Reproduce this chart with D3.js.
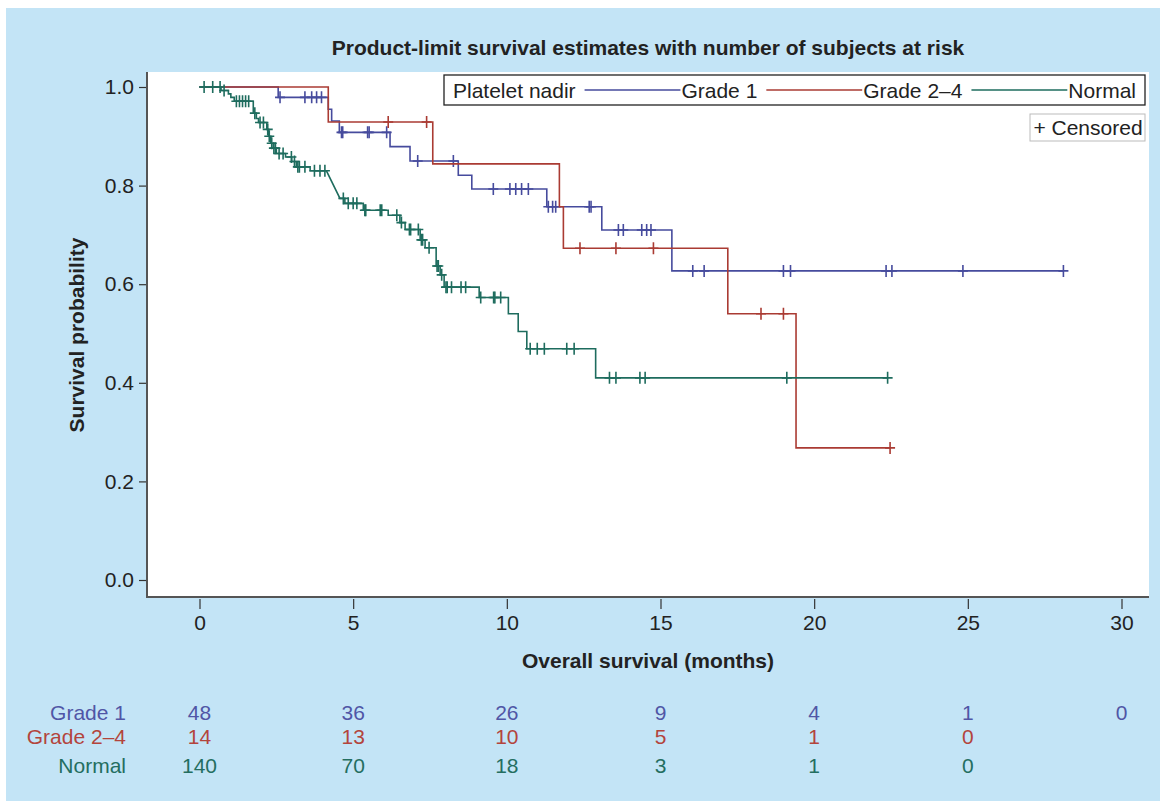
<!DOCTYPE html>
<html>
<head>
<meta charset="utf-8">
<script src="https://cdn.jsdelivr.net/npm/d3@7"></script>
<style>
  body { margin: 0; background: #fff; }
  svg { display: block; font-family: "Liberation Sans", Arial, sans-serif; }
</style>
</head>
<body>
<div id="chart"></div>
<script>
// Kaplan-Meier curves by platelet nadir, with number at risk table
const monthTicks = [0, 5, 10, 15, 20, 25, 30];
const probTicks = [0, 0.2, 0.4, 0.6, 0.8, 1.0];
const groupNames = ['Grade 1', 'Grade 2\u20134', 'Normal'];

// Grade 1
const grade1Times = [2.56, 4.19, 4.30, 4.55, 6.20, 6.85, 8.42, 8.86, 11.30, 13.09, 15.37];
const grade1Surv = [0.979, 0.955, 0.931, 0.908, 0.879, 0.850, 0.821, 0.793, 0.757, 0.710, 0.627];
const grade1Censored = [2.62, 3.43, 3.65, 3.81, 3.97, 4.62, 4.66, 5.47, 5.52, 6.09, 7.10, 8.26,
  9.56, 10.10, 10.29, 10.48, 10.70, 11.35, 11.49, 11.59, 12.68, 12.74, 13.63, 13.79, 14.39,
  14.55, 14.69, 16.05, 16.42, 19.00, 19.23, 22.34, 22.53, 24.84, 28.11];
const grade1AtRisk = [48, 36, 26, 9, 4, 1, 0];

// Grade 2-4
const grade24Times = [4.19, 7.59, 11.71, 11.84, 17.19, 19.41];
const grade24Surv = [0.929, 0.844, 0.757, 0.673, 0.540, 0.268];
const grade24Censored = [6.14, 7.39, 12.38, 13.55, 14.77, 18.27, 19.00, 22.47];
const grade24AtRisk = [14, 13, 10, 5, 1, 0];

// Normal
const normalTimes = [0.70, 0.94, 1.02, 1.13, 1.75, 1.85, 1.92, 2.19, 2.25, 2.32, 2.40, 2.50, 2.80,
  3.00, 3.15, 3.60, 4.57, 4.73, 5.33, 6.14, 6.52, 6.69, 7.18, 7.34, 7.70, 7.83, 7.96, 9.10,
  10.05, 10.37, 10.65, 12.89];
const normalSurv = [0.993, 0.986, 0.979, 0.971, 0.947, 0.936, 0.928, 0.914, 0.900, 0.886, 0.876,
  0.865, 0.858, 0.849, 0.838, 0.830, 0.774, 0.764, 0.750, 0.740, 0.725, 0.711, 0.690, 0.674,
  0.637, 0.619, 0.594, 0.573, 0.540, 0.504, 0.469, 0.410];
const normalCensored = [0.15, 0.43, 0.67, 0.80, 1.20, 1.30, 1.40, 1.50, 1.60, 1.80, 1.97, 2.08,
  2.22, 2.27, 2.35, 2.42, 2.47, 2.59, 2.72, 2.99, 3.09, 3.20, 3.25, 3.43, 3.74, 3.92, 4.08,
  4.68, 4.84, 5.00, 5.12, 5.38, 5.41, 5.88, 5.93, 6.42, 6.57, 6.83, 6.87, 7.12, 7.22, 7.26,
  7.47, 7.73, 7.77, 7.88, 8.02, 8.06, 8.20, 8.51, 8.66, 9.15, 9.57, 9.61, 9.80, 10.76, 10.99,
  11.22, 11.95, 12.19, 13.34, 13.55, 14.33, 14.50, 19.11, 22.39];
// the source draws this drop as a straight ramp instead of a step
const normalRamp = [4.13, 4.57];
const normalAtRisk = [140, 70, 18, 3, 1, 0];

const colors = ['#464b9d', '#aa3b33', '#1e6c5e'];
const textColors = ['#5056a6', '#b3443c', '#246e60'];

const series = [
  { name: groupNames[0], times: grade1Times, surv: grade1Surv, cens: grade1Censored, risk: grade1AtRisk, ramp: null },
  { name: groupNames[1], times: grade24Times, surv: grade24Surv, cens: grade24Censored, risk: grade24AtRisk, ramp: null },
  { name: groupNames[2], times: normalTimes, surv: normalSurv, cens: normalCensored, risk: normalAtRisk, ramp: normalRamp }
];

const W = 1160, H = 803;
const plot = { left: 147, right: 1149, top: 72, bottom: 597 };
const fs = 21;

const svg = d3.select('#chart').append('svg')
  .attr('width', W)
  .attr('height', H);

svg.append('rect').attr('width', W).attr('height', H).attr('fill', '#fff');
svg.append('rect')
  .attr('x', 6).attr('y', 8)
  .attr('width', W - 6).attr('height', H - 10)
  .attr('fill', '#c3e4f6');
svg.append('rect')
  .attr('x', plot.left).attr('y', plot.top)
  .attr('width', plot.right - plot.left).attr('height', plot.bottom - plot.top)
  .attr('fill', '#fff');

const x = d3.scaleLinear().domain([0, 30]).range([199.5, 1121.5]);
const y = d3.scaleLinear().domain([0, 1]).range([580, 87]);

// title
svg.append('text')
  .attr('x', 648).attr('y', 55)
  .attr('text-anchor', 'middle')
  .attr('font-size', fs).attr('font-weight', 'bold')
  .attr('fill', '#222')
  .text('Product-limit survival estimates with number of subjects at risk');

// axes
const yAxis = svg.append('g')
  .attr('transform', `translate(${plot.left},0)`)
  .call(d3.axisLeft(y).tickValues(probTicks).tickFormat(d3.format('.1f')).tickSize(8).tickPadding(5));
yAxis.select('.domain').remove();
yAxis.selectAll('.tick line').attr('stroke', '#333').attr('stroke-width', 1.2);
yAxis.selectAll('.tick text').attr('font-size', fs).attr('fill', '#222').attr('font-family', 'Liberation Sans, Arial, sans-serif');

const xAxis = svg.append('g')
  .attr('transform', `translate(0,${plot.bottom + 2})`)
  .call(d3.axisBottom(x).tickValues(monthTicks).tickSize(10).tickPadding(6));
xAxis.select('.domain').remove();
xAxis.selectAll('.tick line').attr('stroke', '#333').attr('stroke-width', 1.2);
xAxis.selectAll('.tick text').attr('font-size', fs).attr('fill', '#222').attr('font-family', 'Liberation Sans, Arial, sans-serif');

svg.append('line')
  .attr('x1', plot.left).attr('x2', plot.left)
  .attr('y1', plot.top).attr('y2', plot.bottom + 1)
  .attr('stroke', '#555').attr('stroke-width', 2);
svg.append('line')
  .attr('x1', plot.left - 1).attr('x2', plot.right)
  .attr('y1', plot.bottom).attr('y2', plot.bottom)
  .attr('stroke', '#555').attr('stroke-width', 2);

// axis titles
svg.append('text')
  .attr('transform', `translate(84,335) rotate(-90)`)
  .attr('text-anchor', 'middle')
  .attr('font-size', fs).attr('font-weight', 'bold').attr('fill', '#222')
  .text('Survival probability');
svg.append('text')
  .attr('x', 648).attr('y', 668)
  .attr('text-anchor', 'middle')
  .attr('font-size', fs).attr('font-weight', 'bold').attr('fill', '#222')
  .text('Overall survival (months)');

// survival curves
function survAt(s, t) {
  let v = 1;
  s.times.forEach((et, i) => { if (et <= t) v = s.surv[i]; });
  return v;
}

function vertices(s) {
  const pts = [[0, 1]];
  let prev = 1;
  s.times.forEach((t, i) => {
    if (s.ramp && t === s.ramp[1]) pts.push([s.ramp[0], prev]);
    else pts.push([t, prev]);
    pts.push([t, s.surv[i]]);
    prev = s.surv[i];
  });
  const end = d3.max([d3.max(s.cens), d3.max(s.times)]);
  pts.push([end, prev]);
  return pts;
}

const line = d3.line().x(d => x(d[0])).y(d => y(d[1]));

const curves = svg.append('g');
series.forEach((s, k) => {
  const g = curves.append('g');
  g.append('path')
    .attr('d', line(vertices(s)))
    .attr('fill', 'none')
    .attr('stroke', colors[k])
    .attr('stroke-width', 1.6);
  g.selectAll('path.cens')
    .data(s.cens)
    .enter().append('path')
    .attr('class', 'cens')
    .attr('d', t => {
      const cx = x(t), cy = y(survAt(s, t));
      return `M${cx - 5},${cy}H${cx + 5}M${cx},${cy - 6}V${cy + 6}`;
    })
    .attr('fill', 'none')
    .attr('stroke', colors[k])
    .attr('stroke-width', 1.6);
});

// legend
const lg = svg.append('g');
const box = { x: 444, y: 75, w: 701, h: 30 };
lg.append('rect')
  .attr('x', box.x).attr('y', box.y).attr('width', box.w).attr('height', box.h)
  .attr('fill', '#fff').attr('stroke', '#222').attr('stroke-width', 1.3);
const labels = ['Platelet nadir'].concat(groupNames);
const texts = labels.map(l => lg.append('text')
  .attr('y', box.y + 22.5)
  .attr('font-size', fs).attr('fill', '#222')
  .text(l));
const widths = texts.map(t => t.node().getComputedTextLength());
const pad = 9, gapBefore = 9, gapAfter = 1;
const lineLen = (box.w - 2 * pad - d3.sum(widths) - 3 * (gapBefore + gapAfter)) / 3;
let cx = box.x + pad;
texts[0].attr('x', cx);
cx += widths[0];
for (let k = 0; k < 3; k++) {
  cx += gapBefore;
  lg.append('line')
    .attr('x1', cx).attr('x2', cx + lineLen)
    .attr('y1', box.y + box.h / 2).attr('y2', box.y + box.h / 2)
    .attr('stroke', colors[k]).attr('stroke-width', 1.5);
  cx += lineLen + gapAfter;
  texts[k + 1].attr('x', cx);
  cx += widths[k + 1];
}

lg.append('rect')
  .attr('x', 1030).attr('y', 114).attr('width', 115).attr('height', 27)
  .attr('fill', '#fff').attr('stroke', '#bbb').attr('stroke-width', 1);
lg.append('text')
  .attr('x', 1088).attr('y', 135)
  .attr('text-anchor', 'middle')
  .attr('font-size', fs).attr('fill', '#222')
  .text('+ Censored');

// number at risk table
const rowY = [720, 744, 773];
series.forEach((s, k) => {
  svg.append('text')
    .attr('x', 126).attr('y', rowY[k])
    .attr('text-anchor', 'end')
    .attr('font-size', fs).attr('fill', textColors[k])
    .text(s.name);
  svg.append('g').selectAll('text')
    .data(s.risk)
    .enter().append('text')
    .attr('x', (d, i) => x(monthTicks[i]))
    .attr('y', rowY[k])
    .attr('text-anchor', 'middle')
    .attr('font-size', fs).attr('fill', textColors[k])
    .text(d => d);
});
</script>
</body>
</html>
